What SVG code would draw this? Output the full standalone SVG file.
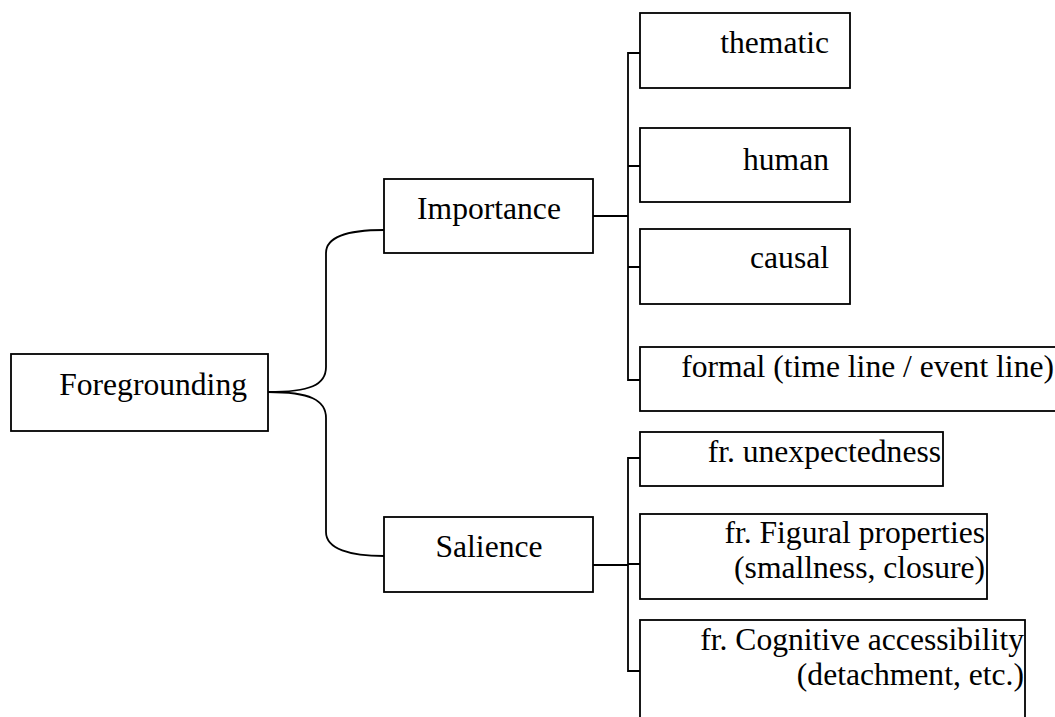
<svg xmlns="http://www.w3.org/2000/svg" width="1055" height="717" viewBox="0 0 1055 717">
<style>
.box{fill:#fff;stroke:#000;stroke-width:1.8}
.t{font-family:"Liberation Serif","Times New Roman",Times,serif;font-size:31.6px;fill:#000}
.c{fill:none;stroke:#000;stroke-width:1.8}
.e{text-anchor:end}
.m{text-anchor:middle}
</style>
<rect width="1055" height="717" fill="#fff"/>
<g id="connectors">
<path class="c" d="M268,392 C310,392 326,385 326,367 L326,253 C326,236 350,230 384,230"/>
<path class="c" d="M268,392 C310,392 326,400 326,418 L326,532 C326,549 350,556 384,556"/>
<path class="c" d="M593,216 L628,216" stroke-width="2.4"/>
<path class="c" d="M640,53 L628,53 L628,380 L640,380 M628,166 L640,166 M628,267 L640,267"/>
<path class="c" d="M593,565 L628,565" stroke-width="2.2"/>
<path class="c" d="M640,458 L628,458 L628,671 L640,671 M628,564 L640,564"/>
</g>
<g id="foregrounding"><rect class="box" x="11" y="354" width="257" height="77"/><text class="t e" x="247" y="395" font-family="Liberation Serif, serif">Foregrounding</text></g>
<g id="importance"><rect class="box" x="384" y="179" width="209" height="74"/><text class="t m" x="489" y="219">Importance</text></g>
<g id="salience"><rect class="box" x="384" y="517" width="209" height="75"/><text class="t m" x="489" y="557">Salience</text></g>
<g id="thematic"><rect class="box" x="640" y="13" width="210" height="75"/><text class="t e" x="829" y="53">thematic</text></g>
<g id="human"><rect class="box" x="640" y="128" width="210" height="74"/><text class="t e" x="829" y="170">human</text></g>
<g id="causal"><rect class="box" x="640" y="229" width="210" height="75"/><text class="t e" x="829" y="268">causal</text></g>
<g id="formal"><rect class="box" x="640" y="347" width="420" height="64"/><text class="t e" x="1054" y="377">formal (time line / event line)</text></g>
<g id="unexpectedness"><rect class="box" x="640" y="432" width="303" height="54"/><text class="t e" x="941" y="462">fr. unexpectedness</text></g>
<g id="figural"><rect class="box" x="640" y="514" width="347" height="85"/><text class="t e" x="985" y="543">fr. Figural properties</text><text class="t e" x="985" y="578">(smallness, closure)</text></g>
<g id="cognitive"><rect class="box" x="640" y="620" width="385" height="110"/><text class="t e" x="1024" y="650">fr. Cognitive accessibility</text><text class="t e" x="1024" y="685">(detachment, etc.)</text></g>
</svg>
